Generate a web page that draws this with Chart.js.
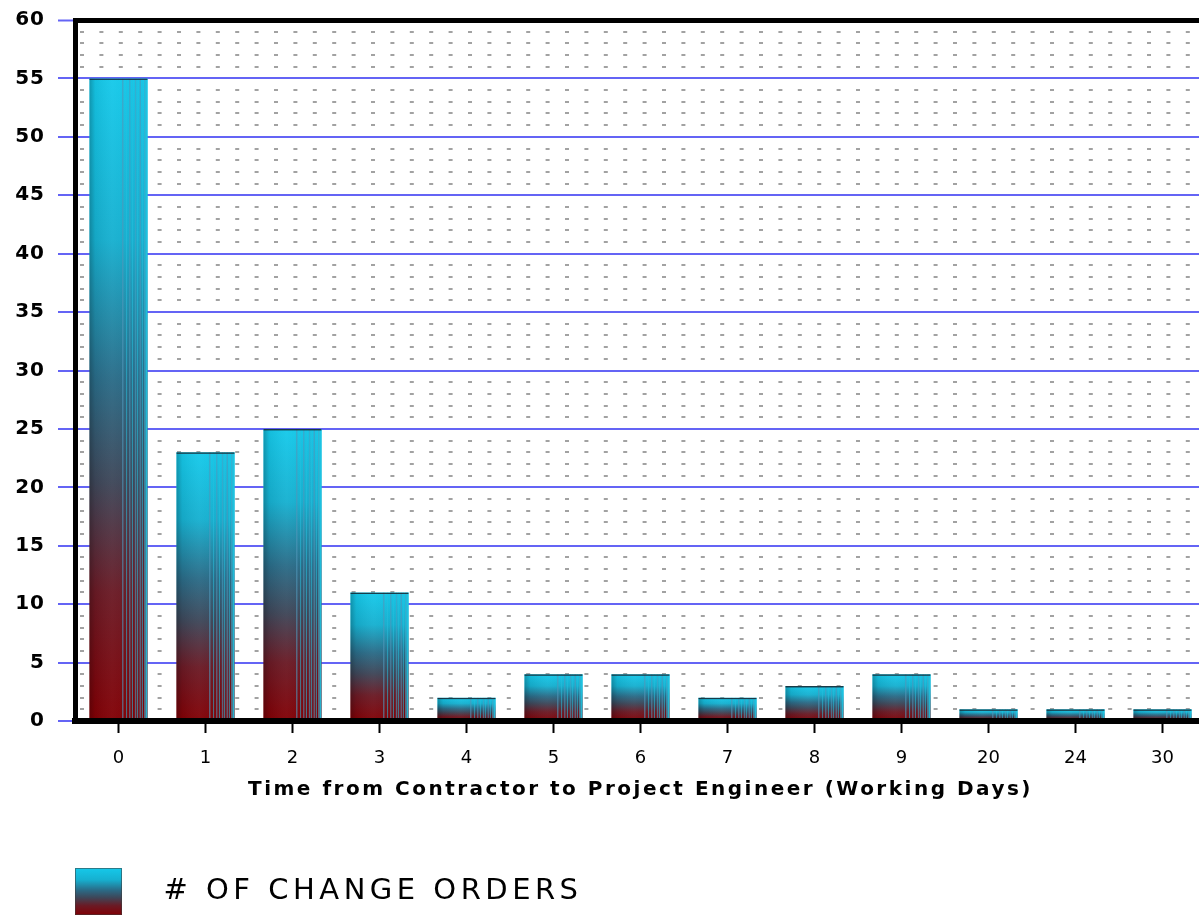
<!DOCTYPE html>
<html>
<head>
<meta charset="utf-8">
<script src="https://cdn.jsdelivr.net/npm/chart.js@4/dist/chart.umd.min.js"></script>
<style>
  html, body { margin: 0; padding: 0; background: #fff; overflow: hidden; }
  #wrap { width: 1206px; height: 925px; position: relative; }
</style>
</head>
<body>
<div id="wrap"><canvas id="c"></canvas></div>
<script>
// Working days from contractor to project engineer, and change order counts
const categories = ['0', '1', '2', '3', '4', '5', '6', '7', '8', '9', '20', '24', '30'];
const changeOrders = [55, 23, 25, 11, 2, 4, 4, 2, 3, 4, 1, 1, 1];
const seriesLabel = '# OF CHANGE ORDERS';
const xAxisTitle = 'Time from Contractor to Project Engineer (Working Days)';
const yMin = 0;
const yMax = 60;
const yMajorStep = 5;

Chart.defaults.font.family = "'DejaVu Sans', 'Liberation Sans', sans-serif";
Chart.defaults.color = '#000';

const canvas = document.getElementById('c');
const ctx2d = canvas.getContext('2d');

// vertical colour ramp used for every bar: cyan top, maroon base
const barStops = [
  [0.00, '#15c9ea'],
  [0.25, '#16b0d0'],
  [0.47, '#2a6b87'],
  [0.63, '#3e4658'],
  [0.80, '#6a1a25'],
  [1.00, '#820005']
];

// legend swatch: a 47px ramp followed by empty space before the text
const swatchCanvas = document.createElement('canvas');
swatchCanvas.width = 74;
swatchCanvas.height = 47;
(function paintSwatch() {
  const s = swatchCanvas.getContext('2d');
  const g = s.createLinearGradient(0, 0, 0, 47);
  barStops.forEach(([o, c]) => g.addColorStop(o, c));
  s.fillStyle = g;
  s.fillRect(0, 0, 47, 47);
  s.strokeStyle = 'rgba(60,60,60,0.55)';
  s.lineWidth = 1;
  s.strokeRect(0.5, 0.5, 46, 46);
})();
const swatchPattern = ctx2d.createPattern(swatchCanvas, 'no-repeat');

// right-hand streaks that give the bars their ribbed look
const barStreaks = [
  [0.56, 1.5, 'rgba(80,150,185,0.6)'],
  [0.63, 1.0, 'rgba(40,190,220,0.6)'],
  [0.68, 1.5, 'rgba(80,150,185,0.55)'],
  [0.73, 1.0, 'rgba(40,190,220,0.65)'],
  [0.78, 1.5, 'rgba(70,160,195,0.6)'],
  [0.82, 1.0, 'rgba(40,190,220,0.7)'],
  [0.86, 1.5, 'rgba(80,150,185,0.6)'],
  [0.90, 1.0, 'rgba(40,190,220,0.7)'],
  [0.94, 1.5, 'rgba(70,170,200,0.7)'],
  [0.965, 2.0, 'rgba(30,195,225,0.9)']
];

const barShading = {
  id: 'barShading',
  afterDatasetsDraw(chart) {
    const ctx = chart.ctx;
    chart.getDatasetMeta(0).data.forEach(bar => {
      const {x, y, base, width} = bar.getProps(['x', 'y', 'base', 'width'], true);
      const left = x - width / 2;
      const h = base - y;
      if (h <= 0) return;
      ctx.save();
      ctx.beginPath();
      ctx.rect(left, y, width, h);
      ctx.clip();
      const sh = ctx.createLinearGradient(left, 0, left + width, 0);
      sh.addColorStop(0, 'rgba(0,0,0,0.25)');
      sh.addColorStop(0.1, 'rgba(0,0,0,0.06)');
      sh.addColorStop(0.4, 'rgba(255,255,255,0.04)');
      sh.addColorStop(1, 'rgba(0,0,0,0)');
      ctx.fillStyle = sh;
      ctx.fillRect(left, y, width, h);
      barStreaks.forEach(([f, w, col]) => {
        ctx.fillStyle = col;
        ctx.fillRect(left + f * width, y, w, h);
      });
      ctx.fillStyle = 'rgba(25,35,45,0.85)';
      ctx.fillRect(left, y, width, 1.5);
      ctx.restore();
    });
  }
};

// wider tracking for the axis title and the legend text
function withSpacing(obj, method, amount) {
  if (!obj || obj['_spaced_' + method]) return;
  const original = obj[method];
  obj[method] = function (...args) {
    const c = this.ctx;
    const prev = c.letterSpacing;
    c.letterSpacing = amount;
    try { return original.apply(this, args); } finally { c.letterSpacing = prev; }
  };
  obj['_spaced_' + method] = true;
}

const textTracking = {
  id: 'textTracking',
  afterUpdate(chart) {
    withSpacing(chart.scales.x, 'drawTitle', '2.5px');
    withSpacing(chart.scales.y, 'drawLabels', '1px');
    withSpacing(chart.legend, 'draw', '4.5px');
  }
};

// legend sits under the plot, lined up with the y axis
const legendPlacement = {
  id: 'legendPlacement',
  afterLayout(chart) {
    const lg = chart.legend;
    const shift = chart.chartArea.left - 10 - lg.left;
    lg.left += shift;
    lg.right += shift;
  },
  beforeDraw(chart) {
    const lg = chart.legend;
    const pad = lg.options.labels.padding;
    swatchPattern.setTransform(new DOMMatrix([1, 0, 0, 1, lg.left + pad, lg.top + pad]));
  }
};

new Chart(canvas, {
  type: 'bar',
  data: {
    labels: categories,
    datasets: [{
      label: seriesLabel,
      data: changeOrders,
      backgroundColor(c) {
        const chart = c.chart;
        if (!chart.chartArea || c.type !== 'data') return barStops[0][1];
        const ys = chart.scales.y;
        const top = ys.getPixelForValue(c.raw);
        const bottom = ys.getPixelForValue(0);
        const g = chart.ctx.createLinearGradient(0, top, 0, bottom);
        barStops.forEach(([o, col]) => g.addColorStop(o, col));
        return g;
      },
      borderWidth: 0,
      categoryPercentage: 1,
      barPercentage: 0.67
    }]
  },
  options: {
    responsive: true,
    maintainAspectRatio: false,
    animation: false,
    events: [],
    layout: { padding: { top: 20, left: 0, right: 0, bottom: 0 } },
    plugins: {
      tooltip: { enabled: false },
      legend: {
        position: 'bottom',
        align: 'start',
        labels: {
          boxWidth: 74,
          boxHeight: 47,
          padding: 10,
          color: '#000',
          font: { size: 29, weight: 'normal' },
          generateLabels: () => [{
            text: seriesLabel,
            fillStyle: swatchPattern,
            strokeStyle: 'rgba(0,0,0,0)',
            lineWidth: 0,
            hidden: false,
            datasetIndex: 0,
            fontColor: '#000'
          }]
        }
      }
    },
    scales: {
      x: {
        grid: {
          offset: false,
          drawOnChartArea: false,
          drawTicks: true,
          tickLength: 12,
          tickWidth: 2,
          tickColor: '#000'
        },
        border: { display: true, color: '#000', width: 6, z: 1 },
        ticks: {
          padding: 15,
          color: '#000',
          font: { size: 18 }
        },
        title: {
          display: true,
          text: xAxisTitle,
          color: '#000',
          font: { size: 20, weight: 'bold' },
          padding: { top: 4, bottom: 56 }
        },
        afterFit(scale) { scale.height = 137; }
      },
      y: {
        min: yMin,
        max: yMax,
        grid: {
          color: c => c.tick.value === yMax ? '#000' : (c.tick.value % yMajorStep === 0 ? '#6464f5' : '#a2a2a2'),
          lineWidth: c => c.tick.value === yMax ? 5 : 2,
          tickColor: c => c.tick.value % yMajorStep === 0 ? '#6464f5' : 'rgba(0,0,0,0)',
          tickLength: 17,
          tickWidth: 2
        },
        border: {
          display: true,
          color: '#000',
          width: 5,
          dash: c => (c.tick && c.tick.value % yMajorStep !== 0) ? [4, 15.4] : [],
          dashOffset: -2
        },
        ticks: {
          stepSize: 1,
          autoSkip: false,
          padding: 13,
          color: '#000',
          font: { size: 20, weight: 'bold' },
          callback: v => (v % yMajorStep === 0 ? String(v) : '')
        },
        afterFit(scale) {
          scale.width = 75;
          scale.paddingTop = 0;
          scale.paddingBottom = 0;
        }
      }
    }
  },
  plugins: [barShading, textTracking, legendPlacement]
});
</script>
</body>
</html>
